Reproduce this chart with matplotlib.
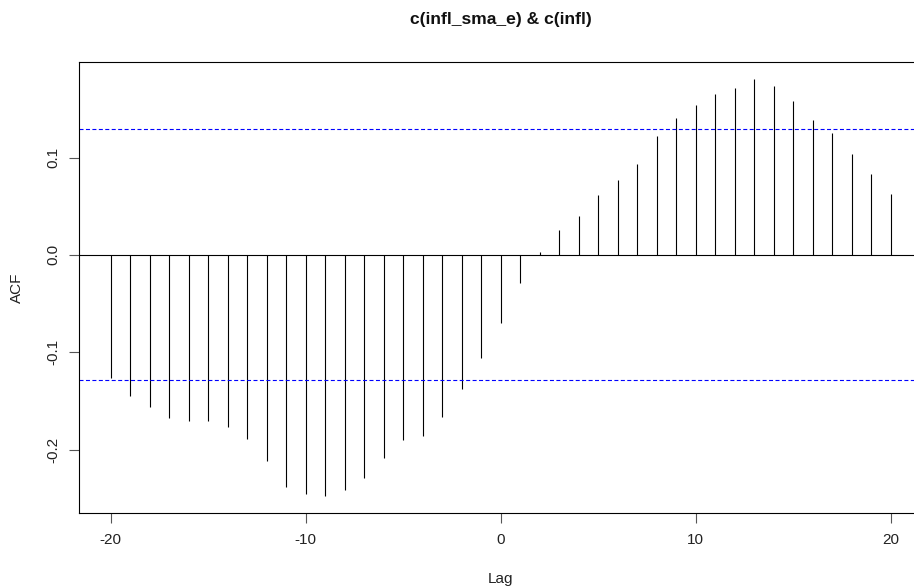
"""Cross-correlation plot of c(infl_sma_e) and c(infl), drawn in the style of R's ccf()."""
import numpy as np
import matplotlib
matplotlib.use("Agg")
import matplotlib.pyplot as plt

plt.rcParams["font.family"] = ["Liberation Sans", "DejaVu Sans"]

LAGS = list(range(-20, 21))
ACF = [
    -0.126, -0.145, -0.156, -0.168, -0.171, -0.171, -0.177, -0.189, -0.212, -0.238,
    -0.246, -0.248, -0.242, -0.229, -0.209, -0.190, -0.186, -0.167, -0.138, -0.106,
    -0.070, -0.029, 0.003, 0.026, 0.040, 0.062, 0.077, 0.093, 0.122, 0.141,
    0.154, 0.165, 0.171, 0.181, 0.174, 0.158, 0.139, 0.125, 0.104, 0.083, 0.063,
]
CONF_LIMIT = 0.129
X_TICKS = [-20, -10, 0, 10, 20]
Y_TICKS = [-0.2, -0.1, 0.0, 0.1]
Y_TICK_LABELS = ["-0.2", "-0.1", "0.0", "0.1"]
TITLE = "c(infl_sma_e) & c(infl)"

fig = plt.figure(figsize=(9.14, 5.86), dpi=100)
# right edge of the box sits just past the image, as in the cropped original
ax = fig.add_axes([0.0868, 0.124, 0.922, 0.7707])

ax.vlines(LAGS, 0, ACF, color="black", linewidth=0.8)
ax.axhline(0, color="black", linewidth=0.8)
for lim in (CONF_LIMIT, -CONF_LIMIT):
    ax.axhline(lim, color="blue", linewidth=0.8, linestyle=(0, (3.6, 2.2)))

ax.set_xlim(-21.6, 21.6)
ax.set_ylim(-0.2655, 0.1985)
ax.set_xticks(X_TICKS)
ax.set_xticklabels([str(t) for t in X_TICKS])
ax.set_yticks(Y_TICKS)
ax.set_yticklabels(Y_TICK_LABELS, rotation=90, va="center")

for side in ("left", "bottom", "top"):
    ax.spines[side].set_linewidth(0.8)
    ax.spines[side].set_color("black")
ax.spines["right"].set_visible(False)
ax.tick_params(direction="out", length=7, width=0.8, labelsize=11, pad=7,
               color="#555555", labelcolor="#222222")

ax.set_xlabel("Lag", fontsize=11, labelpad=18, color="#222222")
ax.set_ylabel("ACF", fontsize=11, labelpad=16, color="#222222")
fig.text(0.548, 0.966, TITLE, ha="center", va="center", fontsize=12.6,
         fontweight="bold", color="#111111")

fig.savefig("out.png", dpi=100)
